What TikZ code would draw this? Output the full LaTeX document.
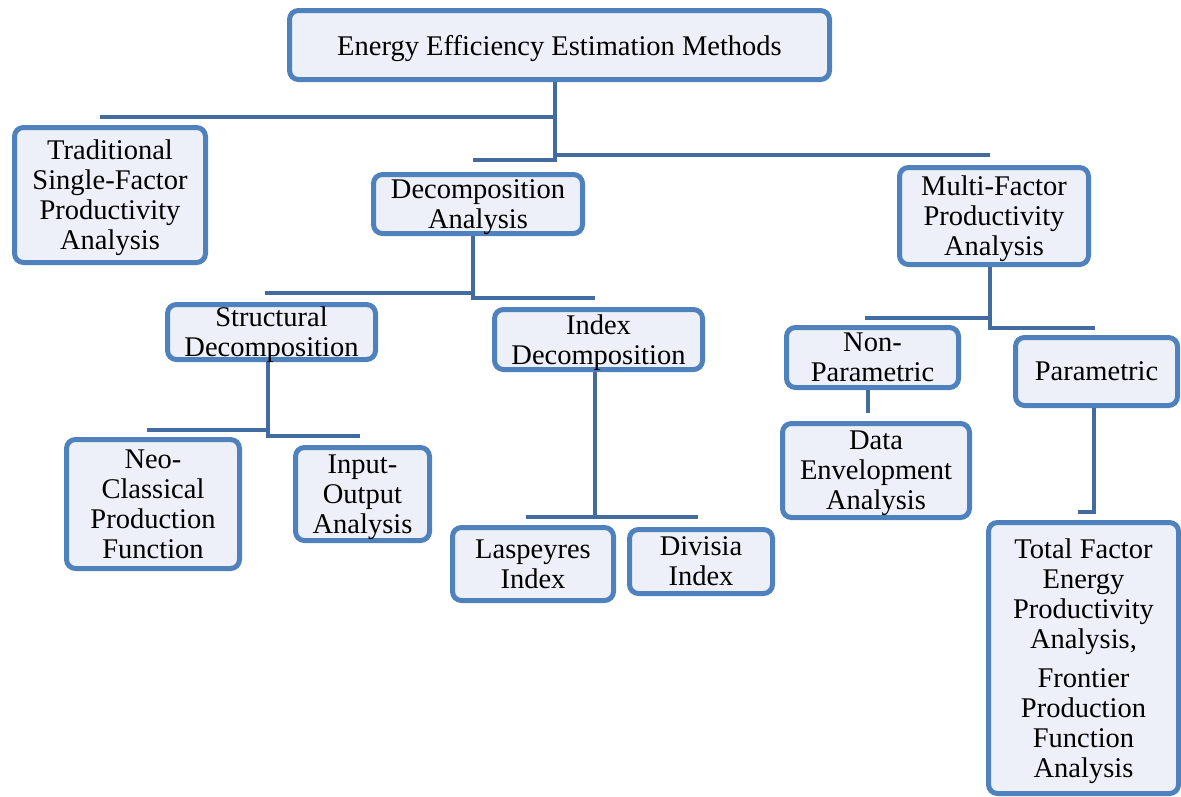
\documentclass[tikz,border=0pt]{standalone}
\usepackage{fontspec}
\setmainfont{Liberation Serif}
\definecolor{boxblue}{RGB}{79,129,189}
\definecolor{boxfill}{RGB}{237,240,248}
\definecolor{linkblue}{RGB}{66,108,160}

\begin{document}
\begin{tikzpicture}[x=1pt,y=-1pt,
    method/.style={draw=boxblue, fill=boxfill, line width=5pt, rounded corners=9pt,
      align=center, inner sep=0pt, text depth=0pt, font=\fontsize{28.5}{30}\selectfont},
    link/.style={draw=linkblue, line width=4.5pt}]
    \useasboundingbox (0,0) rectangle (1181,796);

    % Methods (boxes)
    \node[method, minimum width=540, minimum height=69] (root) at (559.5,45) {Energy Efficiency Estimation Methods};
    \node[method, minimum width=191, minimum height=135] (trad) at (110,195) {Traditional\\Single-Factor\\Productivity\\Analysis};
    \node[method, minimum width=209, minimum height=59] (decomp) at (478,204) {Decomposition\\Analysis};
    \node[method, minimum width=189, minimum height=97] (multi) at (994,216) {Multi-Factor\\Productivity\\Analysis};
    \node[method, minimum width=208, minimum height=55] (struct) at (271.5,332) {Structural\\Decomposition};
    \node[method, minimum width=208, minimum height=60] (index) at (598.5,339.5) {Index\\Decomposition};
    \node[method, minimum width=172, minimum height=60] (nonpar) at (872.5,357.5) {Non-\\Parametric};
    \node[method, minimum width=162, minimum height=68] (par) at (1096.5,371.5) {Parametric};
    \node[method, minimum width=173, minimum height=129] (neo) at (153,504) {Neo-\\Classical\\Production\\Function};
    \node[method, minimum width=134, minimum height=93] (io) at (362.5,494) {Input-\\Output\\Analysis};
    \node[method, minimum width=161, minimum height=73] (lasp) at (533,564) {Laspeyres\\Index};
    \node[method, minimum width=143, minimum height=64] (div) at (701,561.5) {Divisia\\Index};
    \node[method, minimum width=187, minimum height=94] (dea) at (876,470.5) {Data\\Envelopment\\Analysis};
    \node[method, minimum width=190, minimum height=271] (tfep) at (1083.5,658) {Total Factor\\Energy\\Productivity\\Analysis,\\[9pt]Frontier\\Production\\Function\\Analysis};

    % Free ends of the connectors
    \coordinate (tradEnd) at (100,117);
    \coordinate (decompEnd) at (473,160);
    \coordinate (multiEnd) at (990,155);
    \coordinate (structEnd) at (265,293);
    \coordinate (indexEnd) at (595,298);
    \coordinate (neoEnd) at (147,430);
    \coordinate (ioEnd) at (360,436);
    \coordinate (laspEnd) at (526,517);
    \coordinate (divEnd) at (698,517);
    \coordinate (nonparEnd) at (865,318);
    \coordinate (parEnd) at (1095,328);
    \coordinate (deaEnd) at (868,413);
    \coordinate (tfepEnd) at (1078,512);

    % Connectors
    \draw[link] ([xshift=-4.5pt]root.south) |- (tradEnd);
    \draw[link] ([xshift=-4.5pt]root.south) |- (decompEnd);
    \draw[link] ([xshift=-4.5pt]root.south) |- (multiEnd);
    \draw[link] ([xshift=-5pt]decomp.south) |- (structEnd);
    \draw[link] ([xshift=-5pt]decomp.south) |- (indexEnd);
    \draw[link] ([xshift=-3.5pt]struct.south) |- (neoEnd);
    \draw[link] ([xshift=-3.5pt]struct.south) |- (ioEnd);
    \draw[link] ([xshift=-3.5pt]index.south) |- (laspEnd);
    \draw[link] ([xshift=-3.5pt]index.south) |- (divEnd);
    \draw[link] ([xshift=-4pt]multi.south) |- (nonparEnd);
    \draw[link] ([xshift=-4pt]multi.south) |- (parEnd);
    \draw[link] ([xshift=-4.5pt]nonpar.south) -- (deaEnd);
    \draw[link] ([xshift=-2.5pt]par.south) |- (tfepEnd);
\end{tikzpicture}
\end{document}
